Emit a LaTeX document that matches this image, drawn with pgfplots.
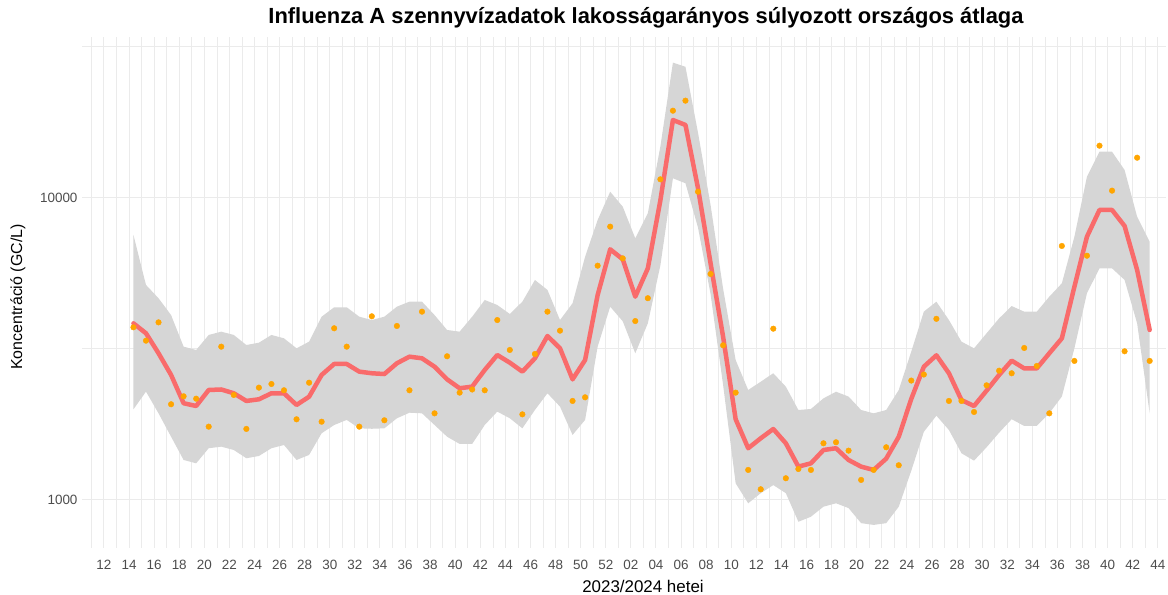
\documentclass[border=0pt]{standalone}
\usepackage{fontspec}
\setmainfont{Liberation Sans}
\usepackage{pgfplots}
\pgfplotsset{compat=1.18}
\usepackage{pgfplotstable}
\usepgfplotslibrary{fillbetween}
\definecolor{gridc}{HTML}{EBEBEB}
\definecolor{ribbon}{HTML}{D6D6D6}
\definecolor{linec}{HTML}{F96B6B}
\definecolor{ptc}{HTML}{FFA500}
\definecolor{tickc}{HTML}{4D4D4D}

\pgfplotstableread{
w pt ln lo up
14 3726 3840 1995 7530
15 3365 3560 2282 5145
16 3870 3057 1935 4650
17 2073 2592 1619 4090
18 2203 2089 1356 3215
19 2163 2046 1322 3135
20 1748 2311 1483 3515
21 3215 2320 1501 3604
22 2225 2254 1463 3515
23 1718 2126 1374 3256
24 2353 2153 1398 3314
25 2419 2254 1483 3515
26 2306 2254 1520 3426
27 1849 2062 1356 3175
28 2443 2196 1409 3340
29 1815 2592 1662 4040
30 3699 2818 1770 4340
31 3215 2818 1840 4340
32 1748 2658 1726 4040
33 4052 2625 1720 3938
34 1835 2610 1726 4040
35 3764 2833 1863 4360
36 2306 2979 1944 4529
37 4197 2942 1935 4529
38 1935 2760 1770 4090
39 2988 2506 1619 3651
40 2265 2342 1532 3604
41 2320 2371 1532 4040
42 2306 2692 1770 4588
43 3938 3017 1960 4416
44 3135 2846 1863 4124
45 1920 2658 1726 4529
46 3040 2942 1985 5343
47 4197 3487 2254 4953
48 3631 3175 2036 3938
49 2126 2506 1641 4475
50 2186 2904 1840 6380
51 5957 4765 3215 8436
52 8020 6749 4360 10466
53 6300 6255 3900 9338
54 3908 4705 3057 7341
55 4650 5838 3840 8880
56 11503 9800 5970 14780
57 19400 18070 11590 27990
58 20940 17400 11160 27100
59 10466 10740 7960 16410
60 5593 6067 4800 9460
61 3249 3467 2400 5000
62 2265 1850 1135 2904
63 1257 1483 975 2311
64 1085 1600 1053 2462
65 3687 1717 1120 2625
66 1180 1540 1053 2371
67 1266 1289 847 1985
68 1257 1322 880 2000
69 1540 1463 950 2169
70 1552 1483 975 2281
71 1456 1356 940 2198
72 1165 1289 838 1985
73 1257 1257 827 1935
74 1494 1370 838 1985
75 1303 1619 950 2311
76 2483 2160 1250 3100
77 2600 2760 1680 4200
78 3975 3010 1900 4529
79 2126 2625 1704 3938
80 2126 2140 1427 3340
81 1955 2046 1349 3175
82 2395 2300 1494 3560
83 2677 2592 1669 3990
84 2625 2890 1850 4380
85 3183 2724 1757 4197
86 2775 2724 1757 4197
87 1935 3057 1935 4705
88 6923 3425 2198 5210
89 2884 5077 3175 7430
90 6427 7430 4828 11740
91 14860 9107 5838 14190
92 10550 9107 5838 14190
93 3104 8060 5343 12350
94 13560 5765 3840 8650
95 2884 3651 1935 7153
}\data

\begin{document}
\begin{tikzpicture}
\begin{axis}[
  at={(82bp,47bp)}, anchor=south west,
  scale only axis, width=1084bp, height=511bp,
  xmin=10.25, xmax=96.65,
  ymode=log, ymin=693.6, ymax=34010,
  axis line style={draw=none},
  major tick length=0pt, minor tick length=0pt,
  xtick={12,14,...,96},
  xticklabels={12,14,16,18,20,22,24,26,28,30,32,34,36,38,40,42,44,46,48,50,52,02,04,06,08,10,12,14,16,18,20,22,24,26,28,30,32,34,36,38,40,42,44},
  minor xtick={11,13,...,95},
  ytick={1000,10000},
  yticklabels={1000,10000},
  minor ytick={3162.28,31622.8},
  grid=both,
  major grid style={draw=gridc, line width=1bp},
  minor grid style={draw=gridc, line width=0.7bp},
  ticklabel style={font=\fontsize{13.5}{15}\selectfont, text=tickc},
  xticklabel style={yshift=-9bp},
  yticklabel style={xshift=-1bp},
]
\addplot[name path=up, draw=none, forget plot] table[x expr=\thisrow{w}+0.35, y=up] {\data};
\addplot[name path=lo, draw=none, forget plot] table[x expr=\thisrow{w}+0.35, y=lo] {\data};
\addplot[fill=ribbon, draw=none] fill between[of=up and lo];
\addplot[only marks, color=ptc, mark=*, mark size=2.8bp, mark options={fill=ptc, draw=ptc}] table[x expr=\thisrow{w}+0.35, y=pt] {\data};
\addplot[linec, line width=4.5bp, line join=round, line cap=round, no marks] table[x expr=\thisrow{w}+0.35, y=ln] {\data};
\end{axis}
\node[font=\fontsize{22}{24}\selectfont\bfseries] at (646bp,577bp) {Influenza A szennyvízadatok lakosságarányos súlyozott országos átlaga};
\node[font=\fontsize{17}{19}\selectfont] at (643bp,9bp) {2023/2024 hetei};
\node[font=\fontsize{16}{18}\selectfont, rotate=90] at (18bp,298bp) {Koncentráció (GC/L)};
\pgfresetboundingbox
\useasboundingbox (0,0) rectangle (1168bp,595bp);
\end{tikzpicture}
\end{document}
